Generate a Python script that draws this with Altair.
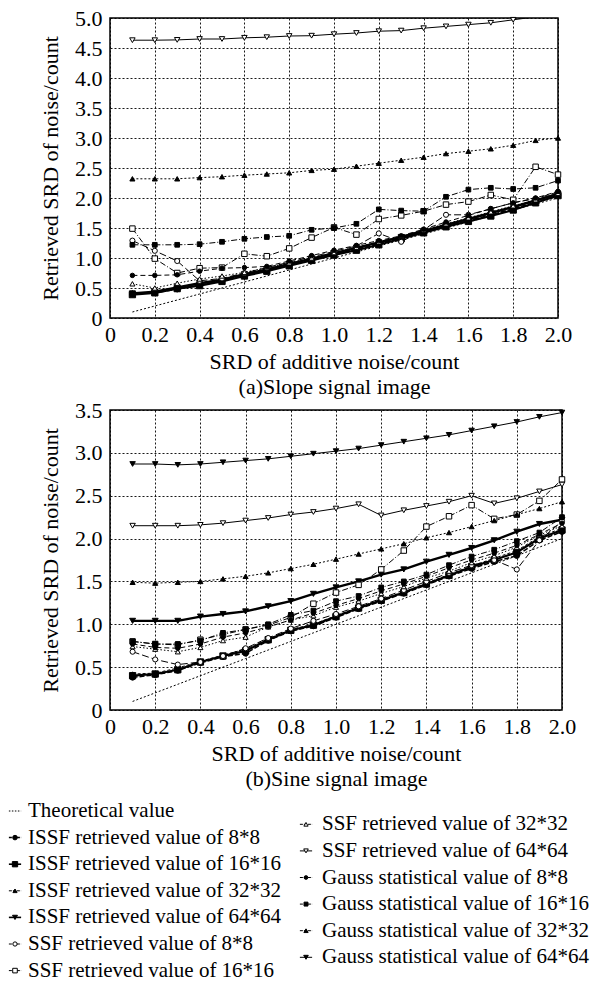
import altair as alt
import pandas as pd

# ---------------- data ----------------
X = [0.1, 0.2, 0.3, 0.4, 0.5, 0.6, 0.7, 0.8, 0.9, 1.0,
     1.1, 1.2, 1.3, 1.4, 1.5, 1.6, 1.7, 1.8, 1.9, 2.0]
THEORY = [0.1, 0.2, 0.3, 0.4, 0.5, 0.6, 0.7, 0.8, 0.9, 1.0,
          1.1, 1.2, 1.3, 1.4, 1.5, 1.6, 1.7, 1.8, 1.9, 2.0]

X_TICKS = [0.0, 0.2, 0.4, 0.6, 0.8, 1.0, 1.2, 1.4, 1.6, 1.8, 2.0]
Y_TICKS_A = [0.0, 0.5, 1.0, 1.5, 2.0, 2.5, 3.0, 3.5, 4.0, 4.5, 5.0]
Y_TICKS_B = [0.0, 0.5, 1.0, 1.5, 2.0, 2.5, 3.0, 3.5]

SERIES = [
    "Theoretical value",
    "ISSF retrieved value of 8*8",
    "ISSF retrieved value of 16*16",
    "ISSF retrieved value of 32*32",
    "ISSF retrieved value of 64*64",
    "SSF retrieved value of 8*8",
    "SSF retrieved value of 16*16",
    "SSF retrieved value of 32*32",
    "SSF retrieved value of 64*64",
    "Gauss statistical value of 8*8",
    "Gauss statistical value of 16*16",
    "Gauss statistical value of 32*32",
    "Gauss statistical value of 64*64",
]

# (a) Slope signal image
a_issf8 = [0.40, 0.42, 0.48, 0.55, 0.62, 0.71, 0.79, 0.88, 0.97, 1.06, 1.15, 1.24, 1.33, 1.43, 1.53, 1.62, 1.72, 1.82, 1.93, 2.05]
a_issf16 = [0.39, 0.42, 0.49, 0.54, 0.61, 0.70, 0.78, 0.87, 0.96, 1.05, 1.13, 1.22, 1.32, 1.42, 1.52, 1.61, 1.70, 1.80, 1.92, 2.04]
a_issf32 = [0.42, 0.43, 0.50, 0.57, 0.63, 0.72, 0.80, 0.89, 0.98, 1.07, 1.16, 1.25, 1.34, 1.44, 1.54, 1.64, 1.74, 1.84, 1.95, 2.06]
a_issf64 = [0.41, 0.44, 0.51, 0.58, 0.64, 0.73, 0.81, 0.90, 0.99, 1.08, 1.17, 1.26, 1.35, 1.45, 1.55, 1.65, 1.75, 1.85, 1.96, 2.07]
a_ssf8 = [1.29, 1.12, 0.95, 0.62, 0.66, 0.75, 0.84, 0.93, 1.02, 1.11, 1.20, 1.41, 1.27, 1.47, 1.72, 1.72, 1.82, 1.92, 1.99, 2.10]
a_ssf16 = [1.49, 0.99, 0.75, 0.83, 0.84, 1.07, 1.03, 1.16, 1.34, 1.51, 1.39, 1.65, 1.71, 1.78, 1.89, 1.94, 2.05, 1.97, 2.52, 2.39]
a_ssf32 = [0.57, 0.50, 0.58, 0.65, 0.70, 0.76, 0.84, 0.92, 1.00, 1.09, 1.18, 1.27, 1.36, 1.47, 1.57, 1.67, 1.77, 1.87, 1.97, 2.08]
a_ssf64 = [4.63, 4.63, 4.635, 4.65, 4.65, 4.67, 4.68, 4.70, 4.705, 4.73, 4.75, 4.78, 4.79, 4.83, 4.86, 4.89, 4.92, 4.97, 5.02, 5.08]
a_gauss8 = [0.71, 0.71, 0.72, 0.78, 0.83, 0.84, 0.86, 0.95, 1.04, 1.13, 1.21, 1.29, 1.37, 1.48, 1.60, 1.71, 1.82, 1.92, 2.00, 2.11]
a_gauss16 = [1.22, 1.22, 1.22, 1.23, 1.27, 1.32, 1.35, 1.37, 1.47, 1.50, 1.57, 1.81, 1.79, 1.78, 2.02, 2.14, 2.17, 2.15, 2.17, 2.29]
a_gauss32 = [2.32, 2.32, 2.32, 2.34, 2.355, 2.38, 2.40, 2.42, 2.46, 2.48, 2.53, 2.58, 2.63, 2.68, 2.74, 2.78, 2.82, 2.88, 2.96, 3.00]

# (b) Sine signal image
b_issf8 = [0.38, 0.41, 0.46, 0.55, 0.62, 0.66, 0.81, 0.92, 0.98, 1.08, 1.18, 1.27, 1.36, 1.46, 1.56, 1.65, 1.73, 1.80, 1.98, 2.08]
b_issf16 = [0.40, 0.42, 0.47, 0.56, 0.63, 0.69, 0.82, 0.93, 0.99, 1.09, 1.19, 1.28, 1.37, 1.47, 1.57, 1.67, 1.75, 1.84, 2.00, 2.10]
b_issf32 = [0.42, 0.43, 0.49, 0.57, 0.64, 0.71, 0.83, 0.94, 1.00, 1.10, 1.20, 1.29, 1.38, 1.48, 1.58, 1.68, 1.77, 1.86, 2.02, 2.12]
b_issf64 = [1.04, 1.04, 1.04, 1.09, 1.12, 1.15, 1.21, 1.27, 1.355, 1.43, 1.50, 1.58, 1.64, 1.73, 1.81, 1.89, 1.98, 2.08, 2.17, 2.22]
b_ssf8 = [0.68, 0.59, 0.53, 0.56, 0.63, 0.72, 0.84, 0.95, 1.04, 1.12, 1.21, 1.30, 1.40, 1.50, 1.60, 1.69, 1.75, 1.64, 1.98, 2.20]
b_ssf16 = [0.80, 0.77, 0.76, 0.82, 0.88, 0.94, 0.99, 1.08, 1.24, 1.37, 1.46, 1.64, 1.86, 2.14, 2.26, 2.39, 2.23, 2.28, 2.44, 2.69]
b_ssf32 = [0.74, 0.71, 0.68, 0.73, 0.81, 0.85, 0.97, 1.05, 1.10, 1.20, 1.27, 1.36, 1.44, 1.54, 1.62, 1.72, 1.80, 1.90, 2.04, 2.15]
b_ssf64 = [2.15, 2.15, 2.15, 2.16, 2.18, 2.21, 2.24, 2.28, 2.31, 2.35, 2.40, 2.27, 2.33, 2.38, 2.43, 2.50, 2.41, 2.47, 2.55, 2.63]
b_gauss8 = [0.77, 0.73, 0.72, 0.77, 0.85, 0.90, 0.97, 1.05, 1.13, 1.22, 1.30, 1.39, 1.47, 1.56, 1.66, 1.75, 1.83, 1.92, 2.05, 2.18]
b_gauss16 = [0.80, 0.77, 0.77, 0.81, 0.90, 0.94, 1.00, 1.11, 1.16, 1.27, 1.33, 1.43, 1.50, 1.58, 1.69, 1.79, 1.87, 1.97, 2.07, 2.25]
b_gauss32 = [1.49, 1.48, 1.49, 1.50, 1.53, 1.56, 1.60, 1.65, 1.70, 1.76, 1.82, 1.88, 1.94, 2.01, 2.07, 2.14, 2.21, 2.28, 2.35, 2.43]
b_gauss64 = [2.87, 2.87, 2.86, 2.87, 2.89, 2.91, 2.93, 2.96, 2.99, 3.02, 3.05, 3.09, 3.13, 3.17, 3.21, 3.26, 3.31, 3.36, 3.42, 3.47]

DATA_A = dict(zip(SERIES, [THEORY, a_issf8, a_issf16, a_issf32, a_issf64,
                           a_ssf8, a_ssf16, a_ssf32, a_ssf64,
                           a_gauss8, a_gauss16, a_gauss32, None]))
DATA_B = dict(zip(SERIES, [THEORY, b_issf8, b_issf16, b_issf32, b_issf64,
                           b_ssf8, b_ssf16, b_ssf32, b_ssf64,
                           b_gauss8, b_gauss16, b_gauss32, b_gauss64]))

# ---------------- styles ----------------
# shape, fill, dash, line width, marker size
STYLE = {
    SERIES[0]: (None, None, [2, 2], 1.0, 0),
    SERIES[1]: ("circle", "black", [5, 2], 1.5, 30),
    SERIES[2]: ("square", "black", None, 2.2, 40),
    SERIES[3]: ("triangle-up", "black", [3, 2], 1.0, 25),
    SERIES[4]: ("triangle-down", "black", None, 2.4, 35),
    SERIES[5]: ("circle", "white", [7, 3], 1.0, 26),
    SERIES[6]: ("square", "white", [6, 2, 1, 2], 1.0, 30),
    SERIES[7]: ("triangle-up", "white", [1.5, 2], 1.0, 26),
    SERIES[8]: ("triangle-down", "white", None, 1.0, 30),
    SERIES[9]: ("circle", "black", [5, 3], 1.0, 20),
    SERIES[10]: ("square", "black", [6, 2, 1, 2], 1.0, 22),
    SERIES[11]: ("triangle-up", "black", [2, 2], 1.0, 26),
    SERIES[12]: ("triangle-down", "black", None, 1.0, 30),
}

FONT = "Liberation Serif"
LABEL_EXPR = "abs(datum.value) < 0.01 ? '0' : format(datum.value, '.1f')"


def panel(data, ymax, yticks, width, title_lines):
    xenc = alt.X("x:Q", scale=alt.Scale(domain=[0, 2.0], nice=False, zero=False),
                 axis=alt.Axis(values=X_TICKS, labelExpr=LABEL_EXPR,
                               title=title_lines, titleLineHeight=25,
                               titlePadding=6, labelPadding=6,
                               labelOverlap=False, labelFlush=False,
                               labelBound=False))
    yenc = alt.Y("y:Q", scale=alt.Scale(domain=[0, ymax], nice=False),
                 axis=alt.Axis(values=yticks, labelExpr=LABEL_EXPR,
                               title="Retrieved SRD of noise/count",
                               titlePadding=12, labelPadding=8,
                               labelOverlap=False, labelFlush=False))
    layers = []
    for name in SERIES:
        ys = data[name]
        if ys is None:
            continue
        shape, fill, dash, lw, size = STYLE[name]
        df = pd.DataFrame({"x": X, "y": ys})
        lkw = dict(color="black", strokeWidth=lw, clip=True)
        if dash is not None:
            lkw["strokeDash"] = dash
        layers.append(alt.Chart(df).mark_line(**lkw).encode(x=xenc, y=yenc))
        if shape is not None:
            layers.append(
                alt.Chart(df).transform_filter(alt.datum.y <= ymax)
                .mark_point(shape=shape, filled=True, fill=fill, stroke="black",
                            strokeWidth=1, size=size, opacity=1)
                .encode(x=xenc, y=yenc)
            )
    return alt.layer(*layers).properties(
        width=width, height=300,
        view=alt.ViewBackground(stroke="black", strokeWidth=1.5),
    )


top = panel(DATA_A, 5.0, Y_TICKS_A, 448,
            ["SRD of additive noise/count", "(a)Slope signal image"])
bottom = panel(DATA_B, 3.5, Y_TICKS_B, 452,
               ["SRD of additive noise/count", "(b)Sine signal image"])

# ---------------- custom legend ----------------
leg_rows = []
for i, name in enumerate(SERIES):
    col = 0 if i < 7 else 1
    row = i if i < 7 else (i - 7) + 0.5
    leg_rows.append({"name": name, "col": col, "row": row})
leg_df = pd.DataFrame(leg_rows)

lx = alt.Scale(domain=[0, 1], range=[-95, 196])
ly = alt.Scale(domain=[0, 6], range=[20, 179.6])
leg_layers = []
for rec in leg_rows:
    shape, fill, dash, lw, size = STYLE[rec["name"]]
    seg = pd.DataFrame({"x": [rec["col"] - 0.021, rec["col"] + 0.021],
                        "y": [rec["row"], rec["row"]]})
    lkw = dict(color="black", strokeWidth=min(lw, 1.6))
    if dash is not None:
        lkw["strokeDash"] = [1.5, 1.5] if rec["name"] == SERIES[0] else [3, 1]
    leg_layers.append(alt.Chart(seg).mark_line(**lkw).encode(
        x=alt.X("x:Q", scale=lx, axis=None), y=alt.Y("y:Q", scale=ly, axis=None)))
    if shape is not None:
        pt = pd.DataFrame({"x": [rec["col"]], "y": [rec["row"]]})
        leg_layers.append(alt.Chart(pt).mark_point(
            shape=shape, filled=True, fill=fill, stroke="black", strokeWidth=1,
            size=max(size * 0.7, 14), opacity=1).encode(
            x=alt.X("x:Q", scale=lx, axis=None), y=alt.Y("y:Q", scale=ly, axis=None)))

for colv, dxv in [(0, 13), (1, 16)]:
    leg_layers.append(alt.Chart(leg_df).transform_filter(alt.datum.col == colv).mark_text(
        align="left", baseline="middle", dx=dxv, font=FONT, fontSize=21, color="black"
    ).encode(x=alt.X("col:Q", scale=lx, axis=None),
             y=alt.Y("row:Q", scale=ly, axis=None),
             text="name:N"))

legend = alt.layer(*leg_layers).properties(
    width=448, height=188,
    view=alt.ViewBackground(stroke="transparent"),
)

chart = alt.vconcat(top, bottom, legend, spacing=0).properties(
    padding={"left": 5, "top": 6, "right": 2, "bottom": 0},
    background="white",
).configure_axis(
    labelFont=FONT, titleFont=FONT, labelFontSize=22, titleFontSize=22,
    labelColor="black", titleColor="black", titleFontWeight="normal",
    grid=True, gridColor="black", gridDash=[2, 2], gridWidth=1, gridOpacity=0.9,
    domain=False, ticks=False,
).configure_view(stroke="black")

chart.save("out.html", embed_options={"renderer": "svg", "actions": False})
